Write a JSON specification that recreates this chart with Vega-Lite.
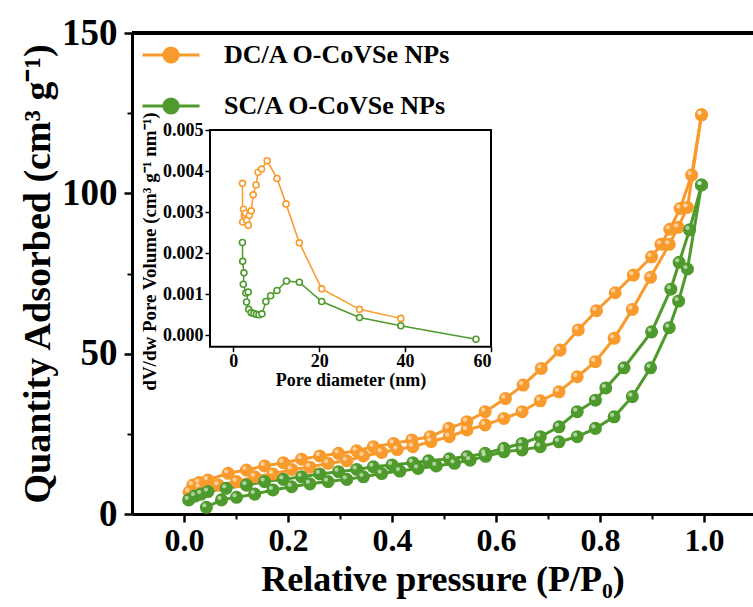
{
  "$schema": "https://vega.github.io/schema/vega-lite/v6.json",
  "autosize": {"type": "none"},
  "width": 621,
  "height": 481,
  "padding": {"left": 132, "top": 33, "right": 0, "bottom": 93},
  "background": "white",
  "config": {
    "font": "Liberation Serif",
    "view": {"stroke": null},
    "axis": {
      "grid": false,
      "labelFont": "Liberation Serif",
      "titleFont": "Liberation Serif",
      "labelFontWeight": "bold",
      "titleFontWeight": "bold",
      "labelColor": "black",
      "titleColor": "black",
      "domainColor": "black",
      "tickColor": "black"
    }
  },
  "datasets": {
    "iso": [
      {"s": "DC/A O-CoVSe NPs", "b": "ads", "i": 1, "p": 0.010, "q": 6.8},
      {"s": "DC/A O-CoVSe NPs", "b": "ads", "i": 2, "p": 0.030, "q": 8.3},
      {"s": "DC/A O-CoVSe NPs", "b": "ads", "i": 3, "p": 0.066, "q": 9.0},
      {"s": "DC/A O-CoVSe NPs", "b": "ads", "i": 4, "p": 0.101, "q": 10.1},
      {"s": "DC/A O-CoVSe NPs", "b": "ads", "i": 5, "p": 0.136, "q": 11.6},
      {"s": "DC/A O-CoVSe NPs", "b": "ads", "i": 6, "p": 0.171, "q": 12.5},
      {"s": "DC/A O-CoVSe NPs", "b": "ads", "i": 7, "p": 0.207, "q": 13.9},
      {"s": "DC/A O-CoVSe NPs", "b": "ads", "i": 8, "p": 0.242, "q": 14.6},
      {"s": "DC/A O-CoVSe NPs", "b": "ads", "i": 9, "p": 0.277, "q": 15.8},
      {"s": "DC/A O-CoVSe NPs", "b": "ads", "i": 10, "p": 0.313, "q": 16.6},
      {"s": "DC/A O-CoVSe NPs", "b": "ads", "i": 11, "p": 0.345, "q": 18.1},
      {"s": "DC/A O-CoVSe NPs", "b": "ads", "i": 12, "p": 0.380, "q": 19.2},
      {"s": "DC/A O-CoVSe NPs", "b": "ads", "i": 13, "p": 0.410, "q": 20.1},
      {"s": "DC/A O-CoVSe NPs", "b": "ads", "i": 14, "p": 0.440, "q": 21.0},
      {"s": "DC/A O-CoVSe NPs", "b": "ads", "i": 15, "p": 0.475, "q": 22.6},
      {"s": "DC/A O-CoVSe NPs", "b": "ads", "i": 16, "p": 0.510, "q": 24.1},
      {"s": "DC/A O-CoVSe NPs", "b": "ads", "i": 17, "p": 0.544, "q": 26.2},
      {"s": "DC/A O-CoVSe NPs", "b": "ads", "i": 18, "p": 0.579, "q": 27.8},
      {"s": "DC/A O-CoVSe NPs", "b": "ads", "i": 19, "p": 0.615, "q": 29.8},
      {"s": "DC/A O-CoVSe NPs", "b": "ads", "i": 20, "p": 0.650, "q": 31.9},
      {"s": "DC/A O-CoVSe NPs", "b": "ads", "i": 21, "p": 0.685, "q": 35.3},
      {"s": "DC/A O-CoVSe NPs", "b": "ads", "i": 22, "p": 0.721, "q": 38.1},
      {"s": "DC/A O-CoVSe NPs", "b": "ads", "i": 23, "p": 0.756, "q": 42.8},
      {"s": "DC/A O-CoVSe NPs", "b": "ads", "i": 24, "p": 0.791, "q": 47.5},
      {"s": "DC/A O-CoVSe NPs", "b": "ads", "i": 25, "p": 0.827, "q": 54.8},
      {"s": "DC/A O-CoVSe NPs", "b": "ads", "i": 26, "p": 0.862, "q": 63.8},
      {"s": "DC/A O-CoVSe NPs", "b": "ads", "i": 27, "p": 0.897, "q": 73.8},
      {"s": "DC/A O-CoVSe NPs", "b": "ads", "i": 28, "p": 0.933, "q": 84.1},
      {"s": "DC/A O-CoVSe NPs", "b": "ads", "i": 29, "p": 0.950, "q": 89.4},
      {"s": "DC/A O-CoVSe NPs", "b": "ads", "i": 30, "p": 0.968, "q": 95.6},
      {"s": "DC/A O-CoVSe NPs", "b": "ads", "i": 31, "p": 0.995, "q": 124.5},
      {"s": "DC/A O-CoVSe NPs", "b": "des", "i": 1, "p": 0.995, "q": 124.5},
      {"s": "DC/A O-CoVSe NPs", "b": "des", "i": 2, "p": 0.976, "q": 105.7},
      {"s": "DC/A O-CoVSe NPs", "b": "des", "i": 3, "p": 0.954, "q": 95.3},
      {"s": "DC/A O-CoVSe NPs", "b": "des", "i": 4, "p": 0.934, "q": 88.8},
      {"s": "DC/A O-CoVSe NPs", "b": "des", "i": 5, "p": 0.917, "q": 84.1},
      {"s": "DC/A O-CoVSe NPs", "b": "des", "i": 6, "p": 0.899, "q": 80.2},
      {"s": "DC/A O-CoVSe NPs", "b": "des", "i": 7, "p": 0.864, "q": 74.5},
      {"s": "DC/A O-CoVSe NPs", "b": "des", "i": 8, "p": 0.829, "q": 69.0},
      {"s": "DC/A O-CoVSe NPs", "b": "des", "i": 9, "p": 0.793, "q": 63.4},
      {"s": "DC/A O-CoVSe NPs", "b": "des", "i": 10, "p": 0.758, "q": 57.4},
      {"s": "DC/A O-CoVSe NPs", "b": "des", "i": 11, "p": 0.723, "q": 51.1},
      {"s": "DC/A O-CoVSe NPs", "b": "des", "i": 12, "p": 0.687, "q": 45.4},
      {"s": "DC/A O-CoVSe NPs", "b": "des", "i": 13, "p": 0.652, "q": 40.2},
      {"s": "DC/A O-CoVSe NPs", "b": "des", "i": 14, "p": 0.618, "q": 36.0},
      {"s": "DC/A O-CoVSe NPs", "b": "des", "i": 15, "p": 0.579, "q": 31.9},
      {"s": "DC/A O-CoVSe NPs", "b": "des", "i": 16, "p": 0.544, "q": 28.8},
      {"s": "DC/A O-CoVSe NPs", "b": "des", "i": 17, "p": 0.509, "q": 26.7},
      {"s": "DC/A O-CoVSe NPs", "b": "des", "i": 18, "p": 0.473, "q": 24.1},
      {"s": "DC/A O-CoVSe NPs", "b": "des", "i": 19, "p": 0.438, "q": 23.1},
      {"s": "DC/A O-CoVSe NPs", "b": "des", "i": 20, "p": 0.403, "q": 22.0},
      {"s": "DC/A O-CoVSe NPs", "b": "des", "i": 21, "p": 0.364, "q": 21.0},
      {"s": "DC/A O-CoVSe NPs", "b": "des", "i": 22, "p": 0.332, "q": 19.7},
      {"s": "DC/A O-CoVSe NPs", "b": "des", "i": 23, "p": 0.297, "q": 18.9},
      {"s": "DC/A O-CoVSe NPs", "b": "des", "i": 24, "p": 0.261, "q": 18.1},
      {"s": "DC/A O-CoVSe NPs", "b": "des", "i": 25, "p": 0.226, "q": 17.1},
      {"s": "DC/A O-CoVSe NPs", "b": "des", "i": 26, "p": 0.191, "q": 16.0},
      {"s": "DC/A O-CoVSe NPs", "b": "des", "i": 27, "p": 0.155, "q": 15.0},
      {"s": "DC/A O-CoVSe NPs", "b": "des", "i": 28, "p": 0.120, "q": 13.7},
      {"s": "DC/A O-CoVSe NPs", "b": "des", "i": 29, "p": 0.085, "q": 12.7},
      {"s": "DC/A O-CoVSe NPs", "b": "des", "i": 30, "p": 0.046, "q": 10.6},
      {"s": "DC/A O-CoVSe NPs", "b": "des", "i": 31, "p": 0.029, "q": 9.8},
      {"s": "DC/A O-CoVSe NPs", "b": "des", "i": 32, "p": 0.017, "q": 9.0},
      {"s": "SC/A O-CoVSe NPs", "b": "ads", "i": 1, "p": 0.043, "q": 2.1},
      {"s": "SC/A O-CoVSe NPs", "b": "ads", "i": 2, "p": 0.072, "q": 4.4},
      {"s": "SC/A O-CoVSe NPs", "b": "ads", "i": 3, "p": 0.101, "q": 5.2},
      {"s": "SC/A O-CoVSe NPs", "b": "ads", "i": 4, "p": 0.136, "q": 6.2},
      {"s": "SC/A O-CoVSe NPs", "b": "ads", "i": 5, "p": 0.171, "q": 7.5},
      {"s": "SC/A O-CoVSe NPs", "b": "ads", "i": 6, "p": 0.207, "q": 8.5},
      {"s": "SC/A O-CoVSe NPs", "b": "ads", "i": 7, "p": 0.242, "q": 9.4},
      {"s": "SC/A O-CoVSe NPs", "b": "ads", "i": 8, "p": 0.277, "q": 10.1},
      {"s": "SC/A O-CoVSe NPs", "b": "ads", "i": 9, "p": 0.313, "q": 10.8},
      {"s": "SC/A O-CoVSe NPs", "b": "ads", "i": 10, "p": 0.345, "q": 11.6},
      {"s": "SC/A O-CoVSe NPs", "b": "ads", "i": 11, "p": 0.380, "q": 12.6},
      {"s": "SC/A O-CoVSe NPs", "b": "ads", "i": 12, "p": 0.415, "q": 13.4},
      {"s": "SC/A O-CoVSe NPs", "b": "ads", "i": 13, "p": 0.450, "q": 14.2},
      {"s": "SC/A O-CoVSe NPs", "b": "ads", "i": 14, "p": 0.485, "q": 15.0},
      {"s": "SC/A O-CoVSe NPs", "b": "ads", "i": 15, "p": 0.520, "q": 15.8},
      {"s": "SC/A O-CoVSe NPs", "b": "ads", "i": 16, "p": 0.550, "q": 16.8},
      {"s": "SC/A O-CoVSe NPs", "b": "ads", "i": 17, "p": 0.580, "q": 18.0},
      {"s": "SC/A O-CoVSe NPs", "b": "ads", "i": 18, "p": 0.615, "q": 19.4},
      {"s": "SC/A O-CoVSe NPs", "b": "ads", "i": 19, "p": 0.650, "q": 20.0},
      {"s": "SC/A O-CoVSe NPs", "b": "ads", "i": 20, "p": 0.685, "q": 21.0},
      {"s": "SC/A O-CoVSe NPs", "b": "ads", "i": 21, "p": 0.721, "q": 22.5},
      {"s": "SC/A O-CoVSe NPs", "b": "ads", "i": 22, "p": 0.756, "q": 24.1},
      {"s": "SC/A O-CoVSe NPs", "b": "ads", "i": 23, "p": 0.791, "q": 26.7},
      {"s": "SC/A O-CoVSe NPs", "b": "ads", "i": 24, "p": 0.827, "q": 30.3},
      {"s": "SC/A O-CoVSe NPs", "b": "ads", "i": 25, "p": 0.862, "q": 36.6},
      {"s": "SC/A O-CoVSe NPs", "b": "ads", "i": 26, "p": 0.897, "q": 45.6},
      {"s": "SC/A O-CoVSe NPs", "b": "ads", "i": 27, "p": 0.933, "q": 58.1},
      {"s": "SC/A O-CoVSe NPs", "b": "ads", "i": 28, "p": 0.951, "q": 66.4},
      {"s": "SC/A O-CoVSe NPs", "b": "ads", "i": 29, "p": 0.968, "q": 76.4},
      {"s": "SC/A O-CoVSe NPs", "b": "ads", "i": 30, "p": 0.995, "q": 102.6},
      {"s": "SC/A O-CoVSe NPs", "b": "des", "i": 1, "p": 0.995, "q": 102.6},
      {"s": "SC/A O-CoVSe NPs", "b": "des", "i": 2, "p": 0.972, "q": 88.6},
      {"s": "SC/A O-CoVSe NPs", "b": "des", "i": 3, "p": 0.952, "q": 78.5},
      {"s": "SC/A O-CoVSe NPs", "b": "des", "i": 4, "p": 0.936, "q": 70.1},
      {"s": "SC/A O-CoVSe NPs", "b": "des", "i": 5, "p": 0.899, "q": 56.8},
      {"s": "SC/A O-CoVSe NPs", "b": "des", "i": 6, "p": 0.846, "q": 45.6},
      {"s": "SC/A O-CoVSe NPs", "b": "des", "i": 7, "p": 0.811, "q": 39.3},
      {"s": "SC/A O-CoVSe NPs", "b": "des", "i": 8, "p": 0.791, "q": 35.5},
      {"s": "SC/A O-CoVSe NPs", "b": "des", "i": 9, "p": 0.756, "q": 31.9},
      {"s": "SC/A O-CoVSe NPs", "b": "des", "i": 10, "p": 0.721, "q": 27.2},
      {"s": "SC/A O-CoVSe NPs", "b": "des", "i": 11, "p": 0.685, "q": 24.1},
      {"s": "SC/A O-CoVSe NPs", "b": "des", "i": 12, "p": 0.650, "q": 22.0},
      {"s": "SC/A O-CoVSe NPs", "b": "des", "i": 13, "p": 0.615, "q": 20.5},
      {"s": "SC/A O-CoVSe NPs", "b": "des", "i": 14, "p": 0.579, "q": 18.9},
      {"s": "SC/A O-CoVSe NPs", "b": "des", "i": 15, "p": 0.544, "q": 17.9},
      {"s": "SC/A O-CoVSe NPs", "b": "des", "i": 16, "p": 0.510, "q": 17.2},
      {"s": "SC/A O-CoVSe NPs", "b": "des", "i": 17, "p": 0.470, "q": 16.6},
      {"s": "SC/A O-CoVSe NPs", "b": "des", "i": 18, "p": 0.440, "q": 16.0},
      {"s": "SC/A O-CoVSe NPs", "b": "des", "i": 19, "p": 0.400, "q": 15.3},
      {"s": "SC/A O-CoVSe NPs", "b": "des", "i": 20, "p": 0.364, "q": 14.7},
      {"s": "SC/A O-CoVSe NPs", "b": "des", "i": 21, "p": 0.332, "q": 13.9},
      {"s": "SC/A O-CoVSe NPs", "b": "des", "i": 22, "p": 0.297, "q": 13.2},
      {"s": "SC/A O-CoVSe NPs", "b": "des", "i": 23, "p": 0.261, "q": 12.5},
      {"s": "SC/A O-CoVSe NPs", "b": "des", "i": 24, "p": 0.226, "q": 11.6},
      {"s": "SC/A O-CoVSe NPs", "b": "des", "i": 25, "p": 0.191, "q": 10.8},
      {"s": "SC/A O-CoVSe NPs", "b": "des", "i": 26, "p": 0.155, "q": 10.1},
      {"s": "SC/A O-CoVSe NPs", "b": "des", "i": 27, "p": 0.120, "q": 9.0},
      {"s": "SC/A O-CoVSe NPs", "b": "des", "i": 28, "p": 0.081, "q": 8.0},
      {"s": "SC/A O-CoVSe NPs", "b": "des", "i": 29, "p": 0.046, "q": 7.0},
      {"s": "SC/A O-CoVSe NPs", "b": "des", "i": 30, "p": 0.033, "q": 6.2},
      {"s": "SC/A O-CoVSe NPs", "b": "des", "i": 31, "p": 0.021, "q": 5.6},
      {"s": "SC/A O-CoVSe NPs", "b": "des", "i": 32, "p": 0.009, "q": 4.4}
    ],
    "psd": [
      {"s": "DC/A O-CoVSe NPs", "i": 1, "d": 2.15, "v": 0.00370},
      {"s": "DC/A O-CoVSe NPs", "i": 2, "d": 2.20, "v": 0.00276},
      {"s": "DC/A O-CoVSe NPs", "i": 3, "d": 2.40, "v": 0.00307},
      {"s": "DC/A O-CoVSe NPs", "i": 4, "d": 2.60, "v": 0.00292},
      {"s": "DC/A O-CoVSe NPs", "i": 5, "d": 2.85, "v": 0.00297},
      {"s": "DC/A O-CoVSe NPs", "i": 6, "d": 3.15, "v": 0.00280},
      {"s": "DC/A O-CoVSe NPs", "i": 7, "d": 3.50, "v": 0.00268},
      {"s": "DC/A O-CoVSe NPs", "i": 8, "d": 3.75, "v": 0.00292},
      {"s": "DC/A O-CoVSe NPs", "i": 9, "d": 4.20, "v": 0.00303},
      {"s": "DC/A O-CoVSe NPs", "i": 10, "d": 4.65, "v": 0.00342},
      {"s": "DC/A O-CoVSe NPs", "i": 11, "d": 5.30, "v": 0.00366},
      {"s": "DC/A O-CoVSe NPs", "i": 12, "d": 5.80, "v": 0.00397},
      {"s": "DC/A O-CoVSe NPs", "i": 13, "d": 6.60, "v": 0.00405},
      {"s": "DC/A O-CoVSe NPs", "i": 14, "d": 7.90, "v": 0.00425},
      {"s": "DC/A O-CoVSe NPs", "i": 15, "d": 10.2, "v": 0.00382},
      {"s": "DC/A O-CoVSe NPs", "i": 16, "d": 12.3, "v": 0.00320},
      {"s": "DC/A O-CoVSe NPs", "i": 17, "d": 15.4, "v": 0.00225},
      {"s": "DC/A O-CoVSe NPs", "i": 18, "d": 20.6, "v": 0.00113},
      {"s": "DC/A O-CoVSe NPs", "i": 19, "d": 29.4, "v": 0.00063},
      {"s": "DC/A O-CoVSe NPs", "i": 20, "d": 39.0, "v": 0.00041},
      {"s": "SC/A O-CoVSe NPs", "i": 1, "d": 2.15, "v": 0.00226},
      {"s": "SC/A O-CoVSe NPs", "i": 2, "d": 2.20, "v": 0.00180},
      {"s": "SC/A O-CoVSe NPs", "i": 3, "d": 2.50, "v": 0.00152},
      {"s": "SC/A O-CoVSe NPs", "i": 4, "d": 2.35, "v": 0.00124},
      {"s": "SC/A O-CoVSe NPs", "i": 5, "d": 2.95, "v": 0.00103},
      {"s": "SC/A O-CoVSe NPs", "i": 6, "d": 3.50, "v": 0.00105},
      {"s": "SC/A O-CoVSe NPs", "i": 7, "d": 3.10, "v": 0.00081},
      {"s": "SC/A O-CoVSe NPs", "i": 8, "d": 3.60, "v": 0.00063},
      {"s": "SC/A O-CoVSe NPs", "i": 9, "d": 4.20, "v": 0.00055},
      {"s": "SC/A O-CoVSe NPs", "i": 10, "d": 4.80, "v": 0.00053},
      {"s": "SC/A O-CoVSe NPs", "i": 11, "d": 5.40, "v": 0.00051},
      {"s": "SC/A O-CoVSe NPs", "i": 12, "d": 6.00, "v": 0.00050},
      {"s": "SC/A O-CoVSe NPs", "i": 13, "d": 6.70, "v": 0.00052},
      {"s": "SC/A O-CoVSe NPs", "i": 14, "d": 7.60, "v": 0.00082},
      {"s": "SC/A O-CoVSe NPs", "i": 15, "d": 8.70, "v": 0.00096},
      {"s": "SC/A O-CoVSe NPs", "i": 16, "d": 10.2, "v": 0.00109},
      {"s": "SC/A O-CoVSe NPs", "i": 17, "d": 12.4, "v": 0.00132},
      {"s": "SC/A O-CoVSe NPs", "i": 18, "d": 15.4, "v": 0.00129},
      {"s": "SC/A O-CoVSe NPs", "i": 19, "d": 20.6, "v": 0.00082},
      {"s": "SC/A O-CoVSe NPs", "i": 20, "d": 29.4, "v": 0.00043},
      {"s": "SC/A O-CoVSe NPs", "i": 21, "d": 39.0, "v": 0.00023},
      {"s": "SC/A O-CoVSe NPs", "i": 22, "d": 56.5, "v": -0.0001}
    ]
  },
  "layer": [
    {
      "data": {"name": "iso"},
      "resolve": {"axis": {"x": "independent", "y": "independent"}},
      "layer": [
        {
          "mark": {"type": "rule", "strokeWidth": 3, "color": "black"},
          "encoding": {
            "y": {"datum": 150, "type": "quantitative", "scale": {"domain": [0, 150]}, "axis": null}
          }
        },
        {
          "mark": {"type": "line", "strokeWidth": 3},
          "encoding": {
            "x": {"field": "p", "type": "quantitative", "scale": {"domain": [-0.1, 1.094], "nice": false, "zero": false},
              "axis": {"orient": "bottom", "values": [0, 0.2, 0.4, 0.6, 0.8, 1.0], "format": ".1f", "labelFontSize": 32, "titleFontSize": 36, "title": "Relative pressure (P/P₀)", "domainWidth": 3, "tickWidth": 2.5, "tickSize": 8, "labelPadding": 3, "titlePadding": 6}},
            "y": {"field": "q", "type": "quantitative", "scale": {"domain": [0, 150], "nice": false},
              "axis": {"orient": "left", "values": [0, 50, 100, 150], "labelFontSize": 37, "titleFontSize": 38, "title": "Quantity Adsorbed (cm³ g⁻¹)", "domainWidth": 3, "tickWidth": 2.5, "tickSize": 8, "labelPadding": 7, "titlePadding": 4}},
            "color": {"field": "s", "type": "nominal",
              "scale": {"domain": ["DC/A O-CoVSe NPs", "SC/A O-CoVSe NPs"], "range": ["#F99A2C", "#4E9A2C"]},
              "legend": {"orient": "none", "legendX": 23, "legendY": 6, "title": null, "labelFontSize": 26, "labelLimit": 0, "labelFont": "Liberation Serif", "labelFontWeight": "bold", "labelColor": "black",
                "symbolType": "M-2,0L2,0M0.5,0A0.5,0.5,0,1,1,-0.5,0A0.5,0.5,0,1,1,0.5,0Z", "symbolSize": 812, "symbolStrokeWidth": 3, "labelOffset": 37, "rowPadding": 21,
                "encode": {"symbols": {"update": {"fill": {"scale": "color", "field": "value"}, "stroke": {"scale": "color", "field": "value"}, "opacity": {"value": 1}}}}}},
            "detail": {"field": "b"},
            "order": {"field": "i", "type": "quantitative"}
          }
        },
        {
          "mark": {"type": "point", "filled": true, "size": 170, "opacity": 1},
          "encoding": {
            "x": {"field": "p", "type": "quantitative", "axis": null},
            "y": {"field": "q", "type": "quantitative", "axis": null},
            "color": {"field": "s", "type": "nominal"}
          }
        },
        {
          "mark": {"type": "point", "filled": true, "size": 18, "color": "white", "opacity": 0.55, "xOffset": -2, "yOffset": -2},
          "encoding": {
            "x": {"field": "p", "type": "quantitative",
              "axis": {"orient": "bottom", "values": [0.1, 0.3, 0.5, 0.7, 0.9], "labels": false, "domain": false, "title": null, "tickSize": 5, "tickWidth": 2}},
            "y": {"field": "q", "type": "quantitative",
              "axis": {"orient": "left", "values": [25, 75, 125], "labels": false, "domain": false, "title": null, "tickSize": 5, "tickWidth": 2}}
          }
        }
      ]
    },
    {
      "layer": [
        {
          "data": {"values": [{}]},
          "mark": {"type": "rect", "fill": "transparent", "stroke": "black", "strokeWidth": 2},
          "encoding": {
            "x": {"datum": -5.4, "type": "quantitative", "scale": {"domain": [-5.4, 60], "range": [78, 359], "nice": false, "zero": false},
              "axis": {"orient": "bottom", "offset": -167.3, "values": [0, 20, 40, 60], "domain": false, "labelFontSize": 18, "titleFontSize": 18, "title": "Pore diameter (nm)", "tickSize": 5, "tickWidth": 1.5, "labelPadding": 1, "titlePadding": 1}},
            "x2": {"datum": 60},
            "y": {"datum": -0.00028, "type": "quantitative", "scale": {"domain": [-0.00028, 0.005], "range": [313.7, 97], "nice": false, "zero": false},
              "axis": {"orient": "left", "offset": -78, "values": [0, 0.001, 0.002, 0.003, 0.004, 0.005], "format": ".3f", "domain": false, "labelFontSize": 18, "titleFontSize": 19, "title": "dV/dw Pore Volume (cm³ g⁻¹ nm⁻¹)", "titleY": 218, "tickSize": 5, "tickWidth": 1.5, "labelPadding": 2, "titlePadding": 3}},
            "y2": {"datum": 0.005}
          }
        },
        {
          "data": {"name": "psd"},
          "mark": {"type": "line", "strokeWidth": 1.5},
          "encoding": {
            "x": {"field": "d", "type": "quantitative"},
            "y": {"field": "v", "type": "quantitative"},
            "color": {"field": "s", "type": "nominal", "legend": null},
            "order": {"field": "i", "type": "quantitative"}
          }
        },
        {
          "data": {"name": "psd"},
          "mark": {"type": "point", "filled": false, "size": 36, "strokeWidth": 1.6, "fill": "white", "opacity": 1},
          "encoding": {
            "x": {"field": "d", "type": "quantitative"},
            "y": {"field": "v", "type": "quantitative"},
            "color": {"field": "s", "type": "nominal", "legend": null}
          }
        }
      ]
    }
  ],
  "resolve": {"scale": {"x": "independent", "y": "independent"}}
}
